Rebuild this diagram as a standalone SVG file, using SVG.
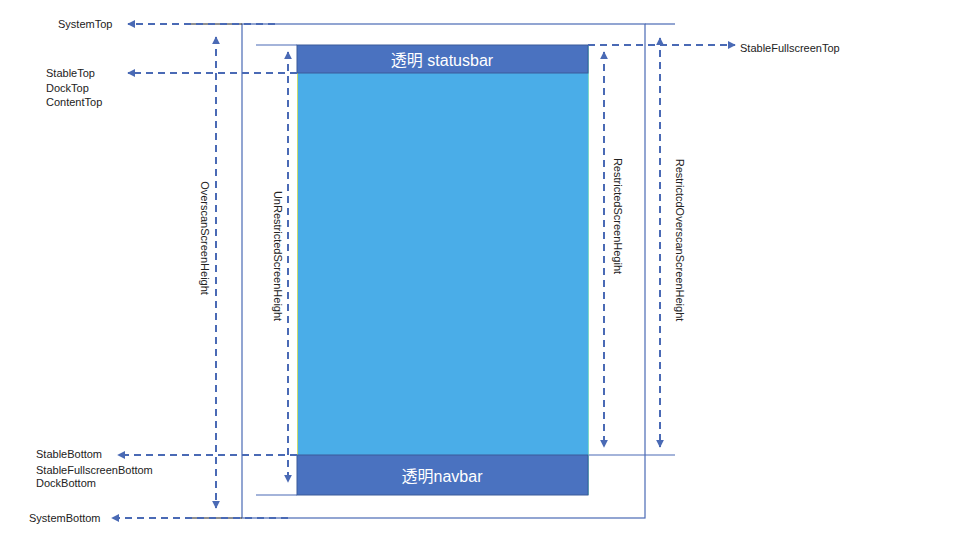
<svg xmlns="http://www.w3.org/2000/svg" width="960" height="540" viewBox="0 0 960 540">
<style>
.d{stroke:#4a6ab5;stroke-width:2;stroke-dasharray:7,5;fill:none}
.s{stroke:#4a6ab5;stroke-width:1.2;fill:none}
.t{font-family:"Liberation Sans",Arial,sans-serif;font-size:11px;fill:#222}
.w{font-family:"Liberation Sans","Noto Sans CJK SC",sans-serif;font-size:16px;fill:#fff}
</style>
<defs>
<marker id="a" viewBox="0 0 10 10" refX="9" refY="5" markerWidth="4" markerHeight="4" orient="auto-start-reverse"><path d="M0,0L10,5L0,10z" fill="#4a6ab5"/></marker>
</defs>
<rect width="960" height="540" fill="#fff"/>
<g id="screen">
<rect x="242" y="24" width="403" height="494" class="s"/>
<line x1="645" y1="24" x2="675" y2="24" class="s"/>
<line x1="185" y1="24" x2="242" y2="24" stroke="#222" stroke-width="1"/>
<line x1="185" y1="518" x2="242" y2="518" stroke="#222" stroke-width="1"/>
<line x1="256" y1="45" x2="297" y2="45" class="s"/>
<line x1="256" y1="495" x2="297" y2="495" class="s"/>
<line x1="588" y1="455" x2="675" y2="455" class="s"/>
</g>
<g id="content"><rect x="297" y="73" width="291" height="382" fill="#4aade8"/><line x1="297.5" y1="73" x2="297.5" y2="455" stroke="#c8d870"/><line x1="588.5" y1="45" x2="588.5" y2="495" stroke="#7fd8c8"/></g>
<g id="statusbar"><rect x="297" y="45" width="291" height="28" fill="#4a72c0" stroke="#3a5a9a"/><text x="442" y="66" text-anchor="middle" class="w">透明 statusbar</text></g>
<g id="navbar"><rect x="297" y="455" width="291" height="40" fill="#4a72c0" stroke="#3a5a9a"/><text x="442" y="482" text-anchor="middle" class="w">透明navbar</text></g>
<g id="connectors">
<line x1="275" y1="24" x2="128" y2="24" class="d" marker-end="url(#a)"/>
<line x1="297" y1="73" x2="128" y2="73" class="d" marker-end="url(#a)"/>
<line x1="297" y1="455" x2="118" y2="455" class="d" marker-end="url(#a)"/>
<line x1="288" y1="518" x2="112" y2="518" class="d" marker-end="url(#a)"/>
<line x1="588" y1="45" x2="735" y2="45" class="d" marker-end="url(#a)"/>
<line x1="216" y1="37" x2="216" y2="508" class="d" marker-start="url(#a)" marker-end="url(#a)"/>
<line x1="288" y1="52" x2="288" y2="482" class="d" marker-start="url(#a)" marker-end="url(#a)"/>
<line x1="604" y1="52" x2="604" y2="447" class="d" marker-start="url(#a)" marker-end="url(#a)"/>
<line x1="660" y1="38" x2="660" y2="447" class="d" marker-start="url(#a)" marker-end="url(#a)"/>
</g>
<g id="labels" class="t">
<text x="58" y="28">SystemTop</text>
<text x="46" y="77">StableTop</text>
<text x="46" y="92">DockTop</text>
<text x="46" y="106">ContentTop</text>
<text x="36" y="458">StableBottom</text>
<text x="36" y="474">StableFullscreenBottom</text>
<text x="36" y="487">DockBottom</text>
<text x="29" y="522">SystemBottom</text>
<text x="740" y="52">StableFullscreenTop</text>
<text transform="translate(201,238) rotate(90)" text-anchor="middle">OverscanScreenHeight</text>
<text transform="translate(274,256) rotate(90)" text-anchor="middle">UnRestrictedScreenHeight</text>
<text transform="translate(614,216) rotate(90)" text-anchor="middle">RestrictedScreenHegiht</text>
<text transform="translate(676,240) rotate(90)" text-anchor="middle">RestrictcdOverscanScreenHeight</text>
</g>
</svg>
